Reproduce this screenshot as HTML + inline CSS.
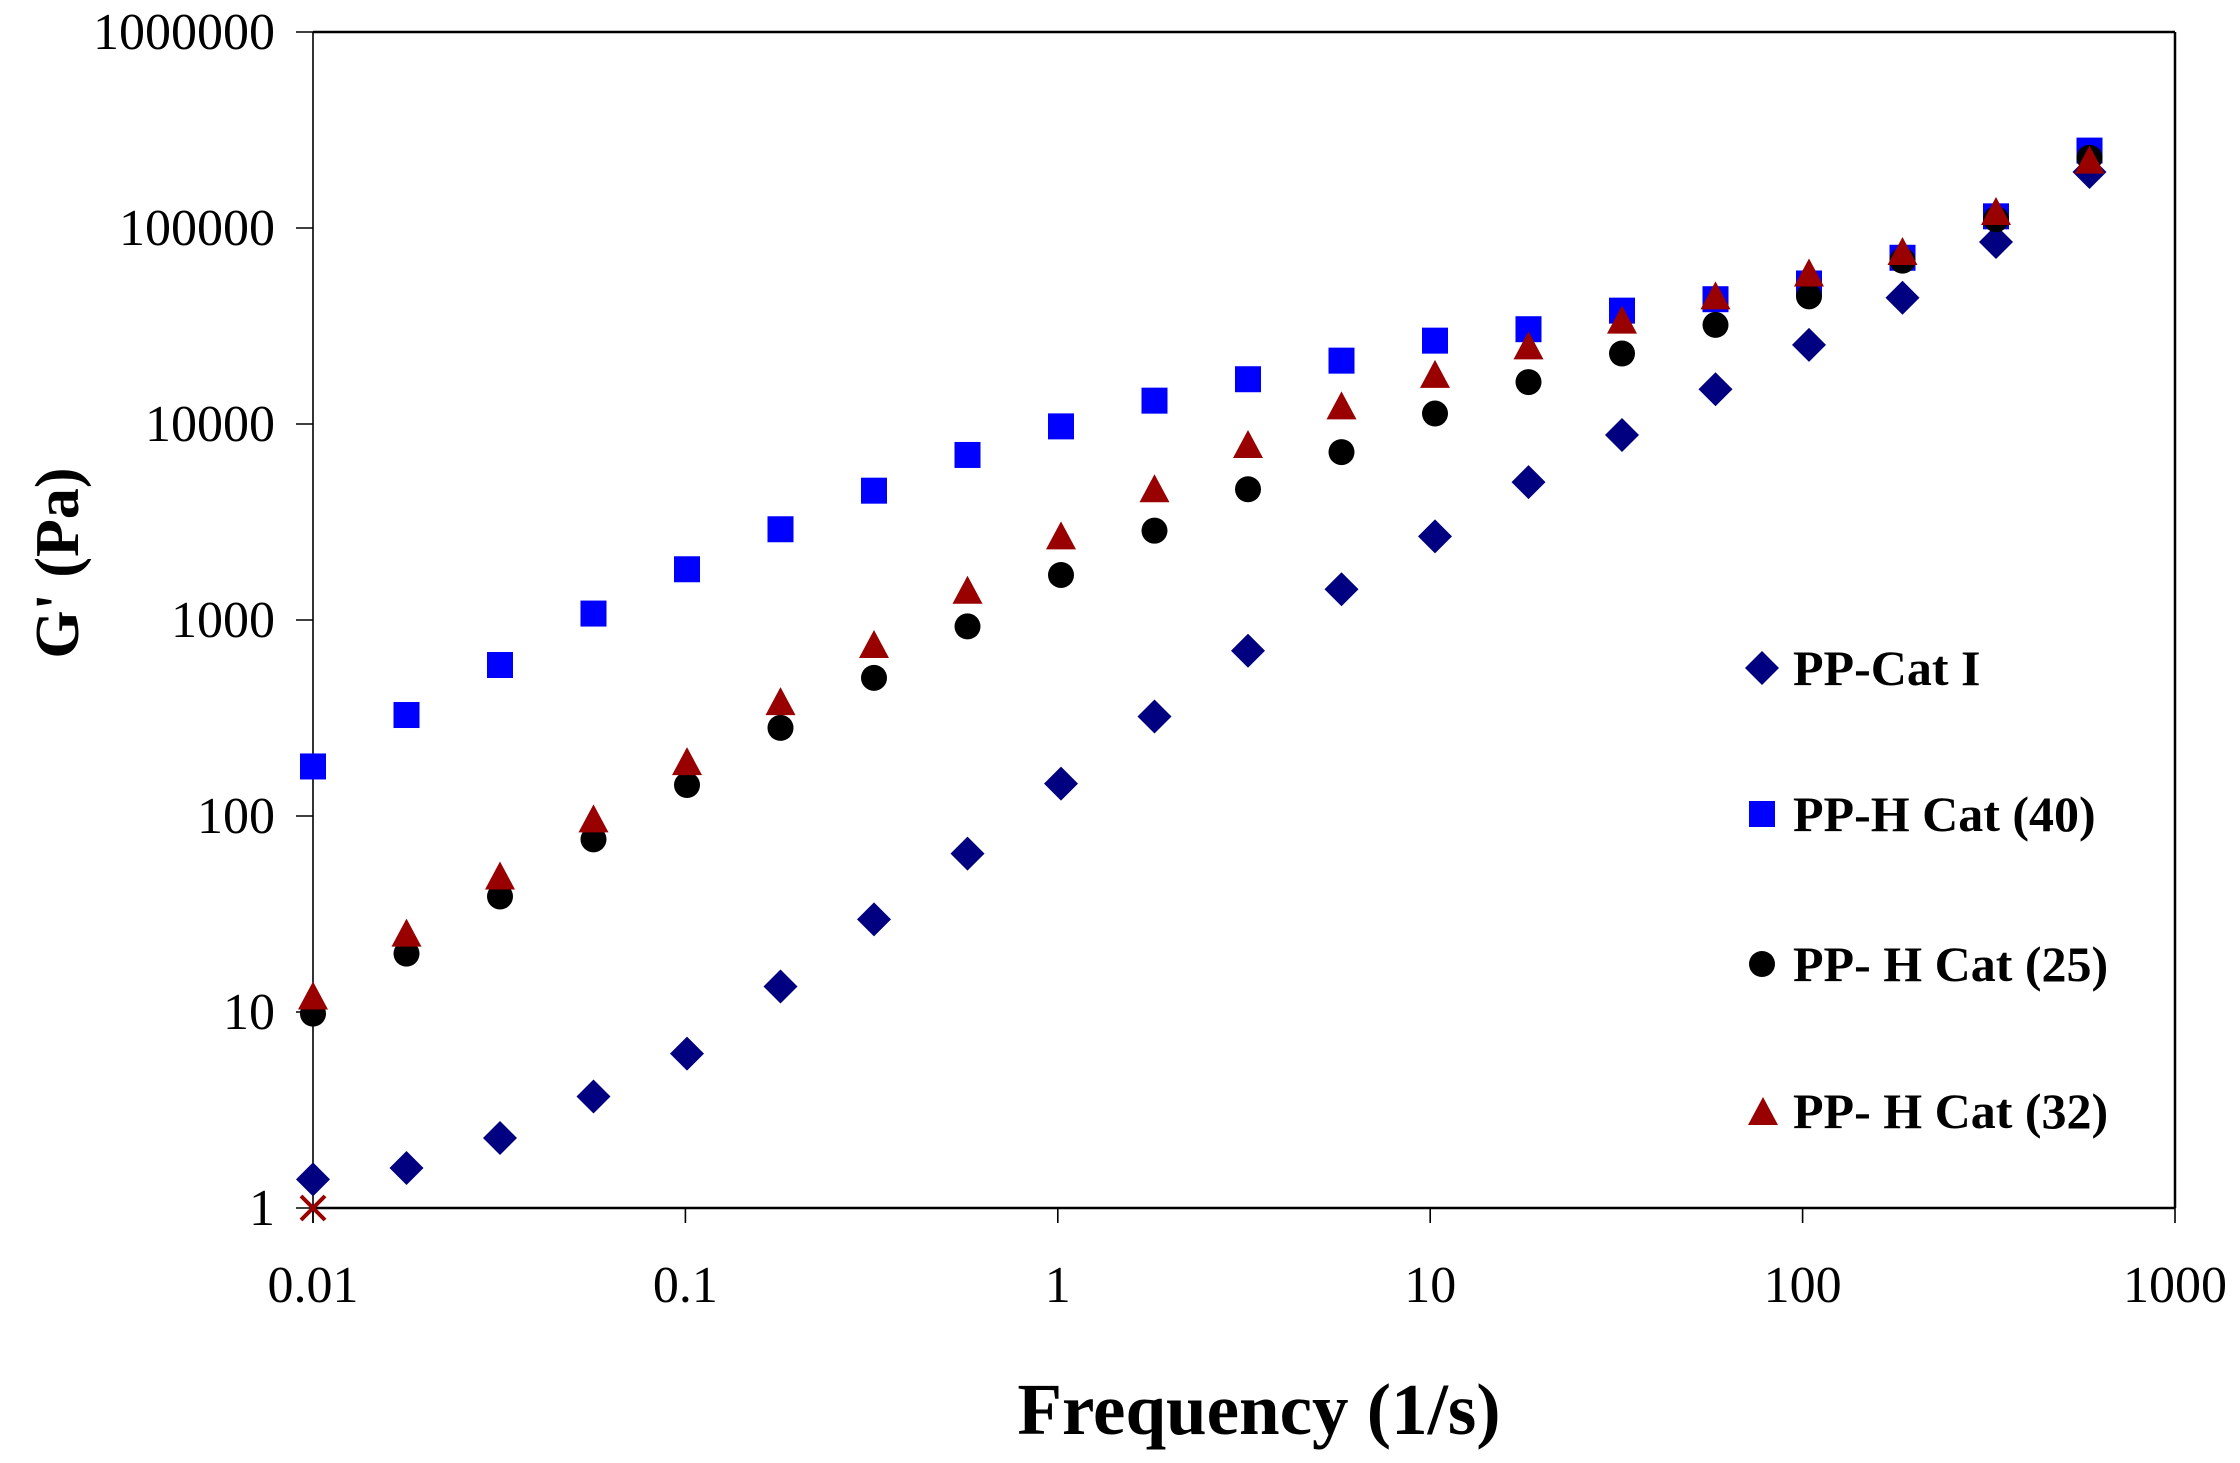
<!DOCTYPE html>
<html><head><meta charset="utf-8"><style>
html,body{margin:0;padding:0;background:#fff;}
svg{display:block;}
</style></head><body>
<svg id="s" width="2240" height="1463" xmlns="http://www.w3.org/2000/svg" font-family="'Liberation Serif', serif">
<rect width="2240" height="1463" fill="#fff"/>
<g stroke="#000" fill="none">
<line x1="313" y1="32" x2="2175" y2="32" stroke-width="2.5"/>
<line x1="2175" y1="32" x2="2175" y2="1208" stroke-width="2.5"/>
<line x1="313" y1="1208" x2="2175" y2="1208" stroke-width="2.5"/>
<line x1="313" y1="32" x2="313" y2="1223" stroke-width="1.6"/>
</g>
<g id="ticks" stroke="#000" stroke-width="1.6"></g>
<g id="labels" font-size="52" fill="#000"></g>
<g id="pts"></g>
<text x="1259" y="1434" font-size="73" font-weight="bold" text-anchor="middle">Frequency (1/s)</text>
<text transform="translate(78,563) rotate(-90)" font-size="62" font-weight="bold" text-anchor="middle">G' (Pa)</text>
<g font-size="50" font-weight="bold">
<polygon points="1762,651 1779,668 1762,685 1745,668" fill="#000080"/>
<text x="1793" y="685">PP-Cat I</text>
<rect x="1749" y="801" width="26" height="26" fill="#0000ff"/>
<text x="1793" y="831">PP-H Cat (40)</text>
<circle cx="1762" cy="964" r="13" fill="#000"/>
<text x="1793" y="981">PP- H Cat (25)</text>
<polygon points="1763,1097 1778,1125 1748,1125" fill="#990000"/>
<text x="1793" y="1128">PP- H Cat (32)</text>
</g>
</svg>
<script>
var NS="http://www.w3.org/2000/svg";
function el(p,t,a){var e=document.createElementNS(NS,t);for(var k in a)e.setAttribute(k,a[k]);p.appendChild(e);return e;}
var T=document.getElementById('ticks'),L=document.getElementById('labels'),P=document.getElementById('pts');
var yl=["1","10","100","1000","10000","100000","1000000"];
for(var i=0;i<7;i++){var y=1208-196*i;el(T,'line',{x1:296,y1:y,x2:313,y2:y});var t=el(L,'text',{x:275,y:y+17,'text-anchor':'end'});t.textContent=yl[i];}
var xl=["0.01","0.1","1","10","100","1000"];
for(var i=0;i<6;i++){var x=313+372.4*i;el(T,'line',{x1:x,y1:1208,x2:x,y2:1223});var t=el(L,'text',{x:x,y:1302,'text-anchor':'middle'});t.textContent=xl[i];}
function ry(d){return 32+(d-22)*1.4289;}
function rx(i){return 313+93.5*i;}
var D=[825,817,796,767,737,690,643,597,548,501,455,412,375,337,304,272,241,208,169,120];
var S=[536,500,465,429,398,370,343,318,298,280,265,252,238,230,217,209,198,180,151,105];
var C=[709,667,627,587,549,509,474,438,402,371,342,316,289,267,247,227,207,182,153,110];
var R=[697,653,613,573,533,491,451,413,375,342,311,284,262,242,224,207,191,176,148,112];
for(var i=0;i<20;i++){var x=rx(i),y=ry(D[i]);el(P,'polygon',{points:x+','+(y-17)+' '+(x+17)+','+y+' '+x+','+(y+17)+' '+(x-17)+','+y,fill:'#000080'});}
for(var i=0;i<20;i++){var x=rx(i),y=ry(S[i]);el(P,'rect',{x:x-13,y:y-13,width:26,height:26,fill:'#0000ff'});}
for(var i=0;i<20;i++){var x=rx(i),y=ry(C[i]);el(P,'circle',{cx:x,cy:y,r:13,fill:'#000'});}
for(var i=0;i<20;i++){var x=rx(i),y=ry(R[i]);el(P,'polygon',{points:x+','+(y-15)+' '+(x+15)+','+(y+13)+' '+(x-15)+','+(y+13),fill:'#990000'});}
el(P,'path',{d:'M301,1196 L325,1220 M325,1196 L301,1220',stroke:'#990000','stroke-width':4});
</script>
</body></html>
